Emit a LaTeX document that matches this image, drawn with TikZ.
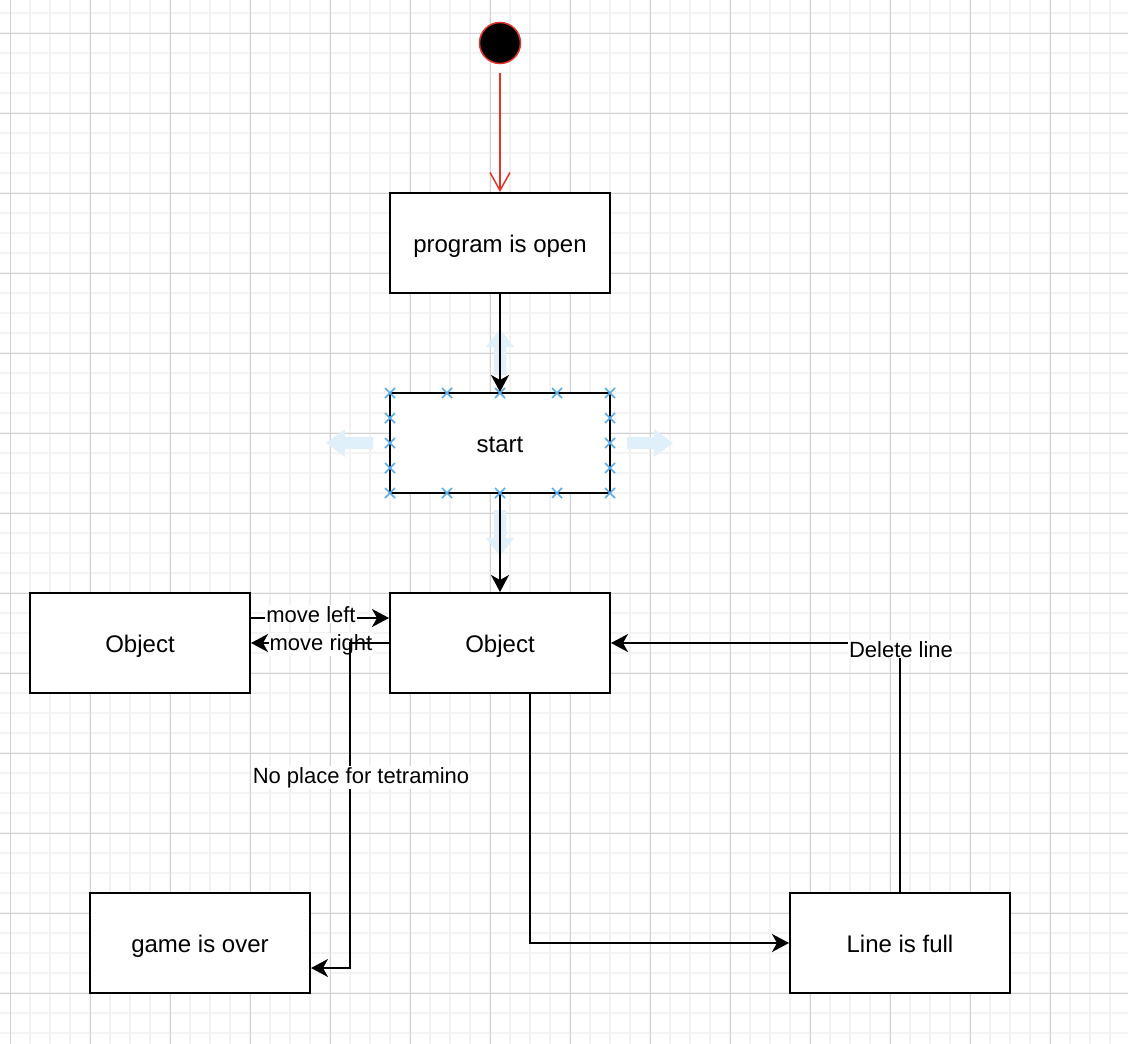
\documentclass[tikz,border=0pt]{standalone}
\usepackage{fontspec}
\setmainfont{Liberation Sans}
\usetikzlibrary{arrows.meta,calc}
\definecolor{gridminor}{RGB}{243,243,243}
\definecolor{gridmajor}{RGB}{210,210,210}
\definecolor{initred}{RGB}{228,52,40}
\definecolor{handle}{RGB}{90,172,232}
\definecolor{hover}{RGB}{224,240,251}
\begin{document}
\begin{tikzpicture}[x=1pt,y=-1pt,
  box/.style={draw, line width=2pt, fill=white, minimum width=220pt, minimum height=100pt,
              inner sep=0pt, text height=19pt, text depth=1pt, font=\fontsize{24}{28}\selectfont},
  arr/.style={line width=2pt, -{Stealth[length=17pt,width=18pt,inset=5pt]}},
  lbl/.style={fill=white, inner sep=1pt, anchor=base, font=\fontsize{22}{26}\selectfont},
  hoverarrow/.style={fill=hover},
  handlemark/.style={draw=handle, line width=1.7pt}]

% canvas and grid
\useasboundingbox (0,0) rectangle (1128,1044);
\fill[white] (0,0) rectangle (1128,1044);
\foreach \x in {30,50,...,1110} \draw[gridminor, line width=1.6pt] (\x,0) -- (\x,1044);
\foreach \y in {13,33,...,1033} \draw[gridminor, line width=1.6pt] (0,\y) -- (1128,\y);
\foreach \x in {10,90,...,1050} \draw[gridmajor, line width=1pt] (\x,0) -- (\x,1044);
\foreach \y in {33,113,...,993} \draw[gridmajor, line width=1pt] (0,\y) -- (1128,\y);

% selection hints around the start state
\fill[hoverarrow] (500,329) -- (514,347) -- (506,347) -- (506,375) -- (494,375) -- (494,347) -- (486,347) -- cycle;
\fill[hoverarrow] (500,556) -- (514,538) -- (506,538) -- (506,510) -- (494,510) -- (494,538) -- (486,538) -- cycle;
\fill[hoverarrow] (326,443) -- (345,429) -- (345,437) -- (373,437) -- (373,449) -- (345,449) -- (345,457) -- cycle;
\fill[hoverarrow] (673,443) -- (654,429) -- (654,437) -- (627,437) -- (627,449) -- (654,449) -- (654,457) -- cycle;

% states
\node[circle, fill=black, draw=initred, line width=1.5pt, minimum size=41pt, inner sep=0pt] (init) at (500,43) {};
\node[box] (prog)  at (500,243) {program is open};
\node[box] (start) at (500,443) {start};
\node[box] (obj)   at (500,643) {Object};
\node[box] (objL)  at (140,643) {Object};
\node[box] (over)  at (200,943) {game is over};
\node[box] (full)  at (900,943) {Line is full};

\coordinate (k1) at (350,643);
\coordinate (k2) at (350,968);

% transitions
\draw[initred, line width=2pt, -{Straight Barb[length=18pt,width=20pt,line width=1.5pt]}, shorten <=9pt] (init) -- (prog);
\draw[arr] (prog) -- (start);
\draw[arr] (start) -- (obj);
\draw[arr] ([yshift=25pt]objL.east) -- ([yshift=25pt]obj.west);
\draw[arr] (obj.west) -- (objL.east);
\node[lbl] (lmleft) at (311,622) {move left};
\node[lbl] (lmright) at (321,650) {move right};
\draw[arr] (obj.west) -- (k1) -- (k2) -- ([yshift=-25pt]over.east);
\node[lbl] (lnoplace) at (361,783) {No place for tetramino};
\draw[arr] ([xshift=30pt]obj.south) |- (full.west);
\draw[arr] (full.north) |- (obj.east);
\node[lbl] (ldelete) at (901,657) {Delete line};

% connection handles on the start state
\foreach \x/\y in {390/393,447/393,500/393,557/393,610/393,
                   390/493,447/493,500/493,557/493,610/493,
                   390/418,390/443,390/468,610/418,610/443,610/468}
  \draw[handlemark] (\x-5,\y-5) -- (\x+5,\y+5) (\x-5,\y+5) -- (\x+5,\y-5);
\end{tikzpicture}
\end{document}
